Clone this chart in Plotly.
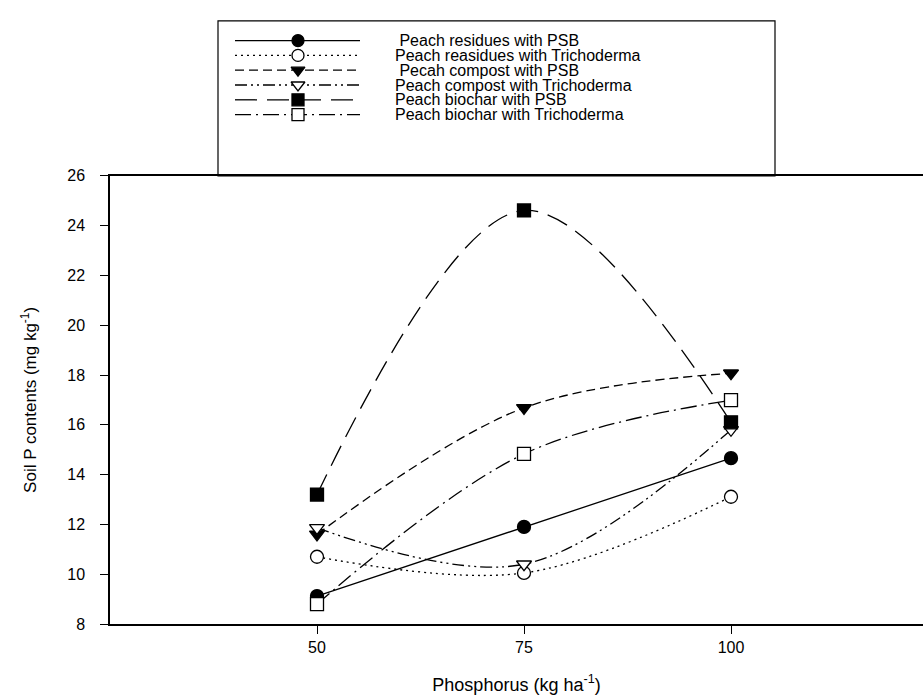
import plotly.graph_objects as go

# ---- data ----
phosphorus = [50, 75, 100]
residues_psb = [9.12, 11.9, 14.66]
residues_trich = [10.7, 10.05, 13.11]
compost_psb = [11.6, 16.68, 18.07]
compost_trich = [11.86, 10.4, 15.8]
biochar_psb = [13.2, 24.61, 16.1]
biochar_trich = [8.8, 14.83, 16.99]

labels = [
    "\u00a0Peach residues with PSB",
    "Peach reasidues with Trichoderma",
    "\u00a0Pecah compost with PSB",
    "Peach compost with Trichoderma",
    "Peach biochar with PSB",
    "Peach biochar with Trichoderma",
]
x_ticks = [50, 75, 100]
y_ticks = [8, 10, 12, 14, 16, 18, 20, 22, 24, 26]

series = [residues_psb, residues_trich, compost_psb, compost_trich, biochar_psb, biochar_trich]
symbols = ["circle", "circle", "triangle-down", "triangle-down", "square", "square"]
fills = ["black", "white", "black", "white", "black", "white"]
dashes = ["solid", "2px,4px", "9px,5px", "12px,4px,2px,4px,2px,4px", "22px,10px", "16px,5px,2px,5px"]
shapes_line = ["linear", "spline", "spline", "spline", "spline", "spline"]

W, H = 923, 700
L_AX, T_PLOT, B_PLOT = 110, 170, 624
FONT = "Arial, Liberation Sans, sans-serif"

fig = go.Figure()
for i, ys in enumerate(series):
    fig.add_trace(go.Scatter(
        x=phosphorus, y=ys, mode="lines+markers",
        line=dict(color="black", width=1.3, dash=dashes[i], shape=shapes_line[i], smoothing=1.0),
        marker=dict(symbol=symbols[i], size=13, color=fills[i],
                    line=dict(color="black", width=1.3)),
        showlegend=False, xaxis="x", yaxis="y",
    ))

# ---- manual legend drawn on a pixel-unit helper axis ----
leg_rows = [33 + i * 15 for i in range(6)]
fig.add_trace(go.Scatter(
    x=[298] * 6, y=leg_rows, mode="markers",
    marker=dict(symbol=symbols, size=12, color=fills, line=dict(color="black", width=1.3)),
    xaxis="x2", yaxis="y2", showlegend=False, hoverinfo="skip",
))
shapes = [dict(type="rect", xref="x2", yref="y2", x0=218, x1=775, y0=13, y1=170,
               line=dict(color="black", width=1.2), layer="below")]
annotations = []
for i in range(6):
    shapes.append(dict(type="line", xref="x2", yref="y2", x0=235, x1=360,
                       y0=leg_rows[i], y1=leg_rows[i],
                       line=dict(color="black", width=1.3, dash=dashes[i]), layer="below"))
    annotations.append(dict(text=labels[i], xref="x2", yref="y2", x=393, y=leg_rows[i],
                            xanchor="left", yanchor="middle", showarrow=False,
                            font=dict(family=FONT, size=16, color="black")))

fig.update_layout(
    width=W, height=H,
    margin=dict(l=0, r=0, t=0, b=H - B_PLOT),
    paper_bgcolor="white", plot_bgcolor="rgba(0,0,0,0)",
    font=dict(family=FONT, color="black"),
    shapes=shapes, annotations=annotations,
    xaxis=dict(domain=[L_AX / W, 1], range=[25, 25 + (W - L_AX) / ((317 - L_AX) / 25)],
               tickvals=x_ticks, ticks="outside", ticklen=8, tickwidth=1, tickcolor="black",
               showline=True, linecolor="black", linewidth=1.5, mirror=True,
               showgrid=False, zeroline=False, tickfont=dict(size=16),
               title=dict(text="Phosphorus (kg ha<sup>-1</sup>)", font=dict(size=18), standoff=23)),
    yaxis=dict(domain=[0, (B_PLOT - T_PLOT) / B_PLOT], range=[8, 26], tickvals=y_ticks,
               ticks="outside", ticklen=8, tickwidth=1, tickcolor="black",
               ticklabelstandoff=12,
               showline=True, linecolor="black", linewidth=1.5,
               showgrid=False, zeroline=False, tickfont=dict(size=16),
               title=dict(text="Soil P contents (mg kg<sup>-1</sup>)", font=dict(size=17), standoff=26)),
    xaxis2=dict(domain=[0, 1], range=[0, W], visible=False, anchor="y2"),
    yaxis2=dict(domain=[0, 1], range=[B_PLOT, 0], visible=False, anchor="x2"),
)

fig.write_html("out.html")
